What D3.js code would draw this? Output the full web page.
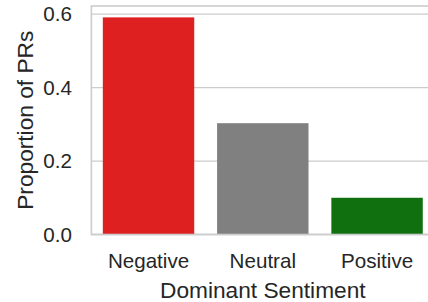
<!DOCTYPE html>
<html><head><meta charset="utf-8">
<script src="https://cdn.jsdelivr.net/npm/d3@7"></script>
<style>body{margin:0;background:#fff}svg{display:block}text{font-family:"Liberation Sans",Arial,sans-serif;fill:#262626}</style>
</head><body><svg id="c" width="428" height="302"></svg>
<script>
const categories = ["Negative", "Neutral", "Positive"];
const values = [0.591, 0.303, 0.100];
const colors = ["#df2020", "#808080", "#107010"];
const yTicks = [0.0, 0.2, 0.4, 0.6];
const xTitle = "Dominant Sentiment";
const yTitle = "Proportion of PRs";

const svg = d3.select("#c");
const L = 91.4, R = 434.2, T = 6, B = 234.5;
const x = d3.scaleBand().domain(categories).range([L, R]).paddingInner(0.2).paddingOuter(0.1);
const y = d3.scaleLinear().domain([0, 0.622]).range([B, T]);

// grid
svg.append("g").selectAll("line").data(yTicks).join("line")
  .attr("x1", L).attr("x2", R).attr("y1", d => y(d)).attr("y2", d => y(d))
  .attr("stroke", "#cccccc").attr("stroke-width", 1.3);

// bars
svg.append("g").selectAll("rect").data(categories).join("rect")
  .attr("x", d => x(d)).attr("width", x.bandwidth())
  .attr("y", (d, i) => y(values[i])).attr("height", (d, i) => B - y(values[i]))
  .attr("fill", (d, i) => colors[i]);

// spines
svg.append("rect").attr("x", L).attr("y", T).attr("width", R - L).attr("height", B - T)
  .attr("fill", "none").attr("stroke", "#cccccc").attr("stroke-width", 1.6);

// y axis
const ya = svg.append("g").attr("transform", `translate(${L},0)`)
  .call(d3.axisLeft(y).tickValues(yTicks).tickFormat(d3.format(".1f")).tickSize(0).tickPadding(19.5));
ya.select(".domain").remove();
ya.selectAll("text").attr("font-size", 20.6).attr("fill", "#262626").attr("font-family", "Liberation Sans, Arial, sans-serif");

// x axis
const xa = svg.append("g").attr("transform", `translate(0,${B})`)
  .call(d3.axisBottom(x).tickSize(0).tickPadding(19));
xa.select(".domain").remove();
xa.selectAll("text").attr("font-size", 20.6).attr("fill", "#262626").attr("font-family", "Liberation Sans, Arial, sans-serif");

svg.append("text").attr("x", (L + R) / 2).attr("y", 298).attr("text-anchor", "middle")
  .attr("font-size", 22.7).text(xTitle);
svg.append("text").attr("transform", `translate(33,${(T + B) / 2}) rotate(-90)`).attr("text-anchor", "middle")
  .attr("font-size", 22.7).text(yTitle);
</script></body></html>
